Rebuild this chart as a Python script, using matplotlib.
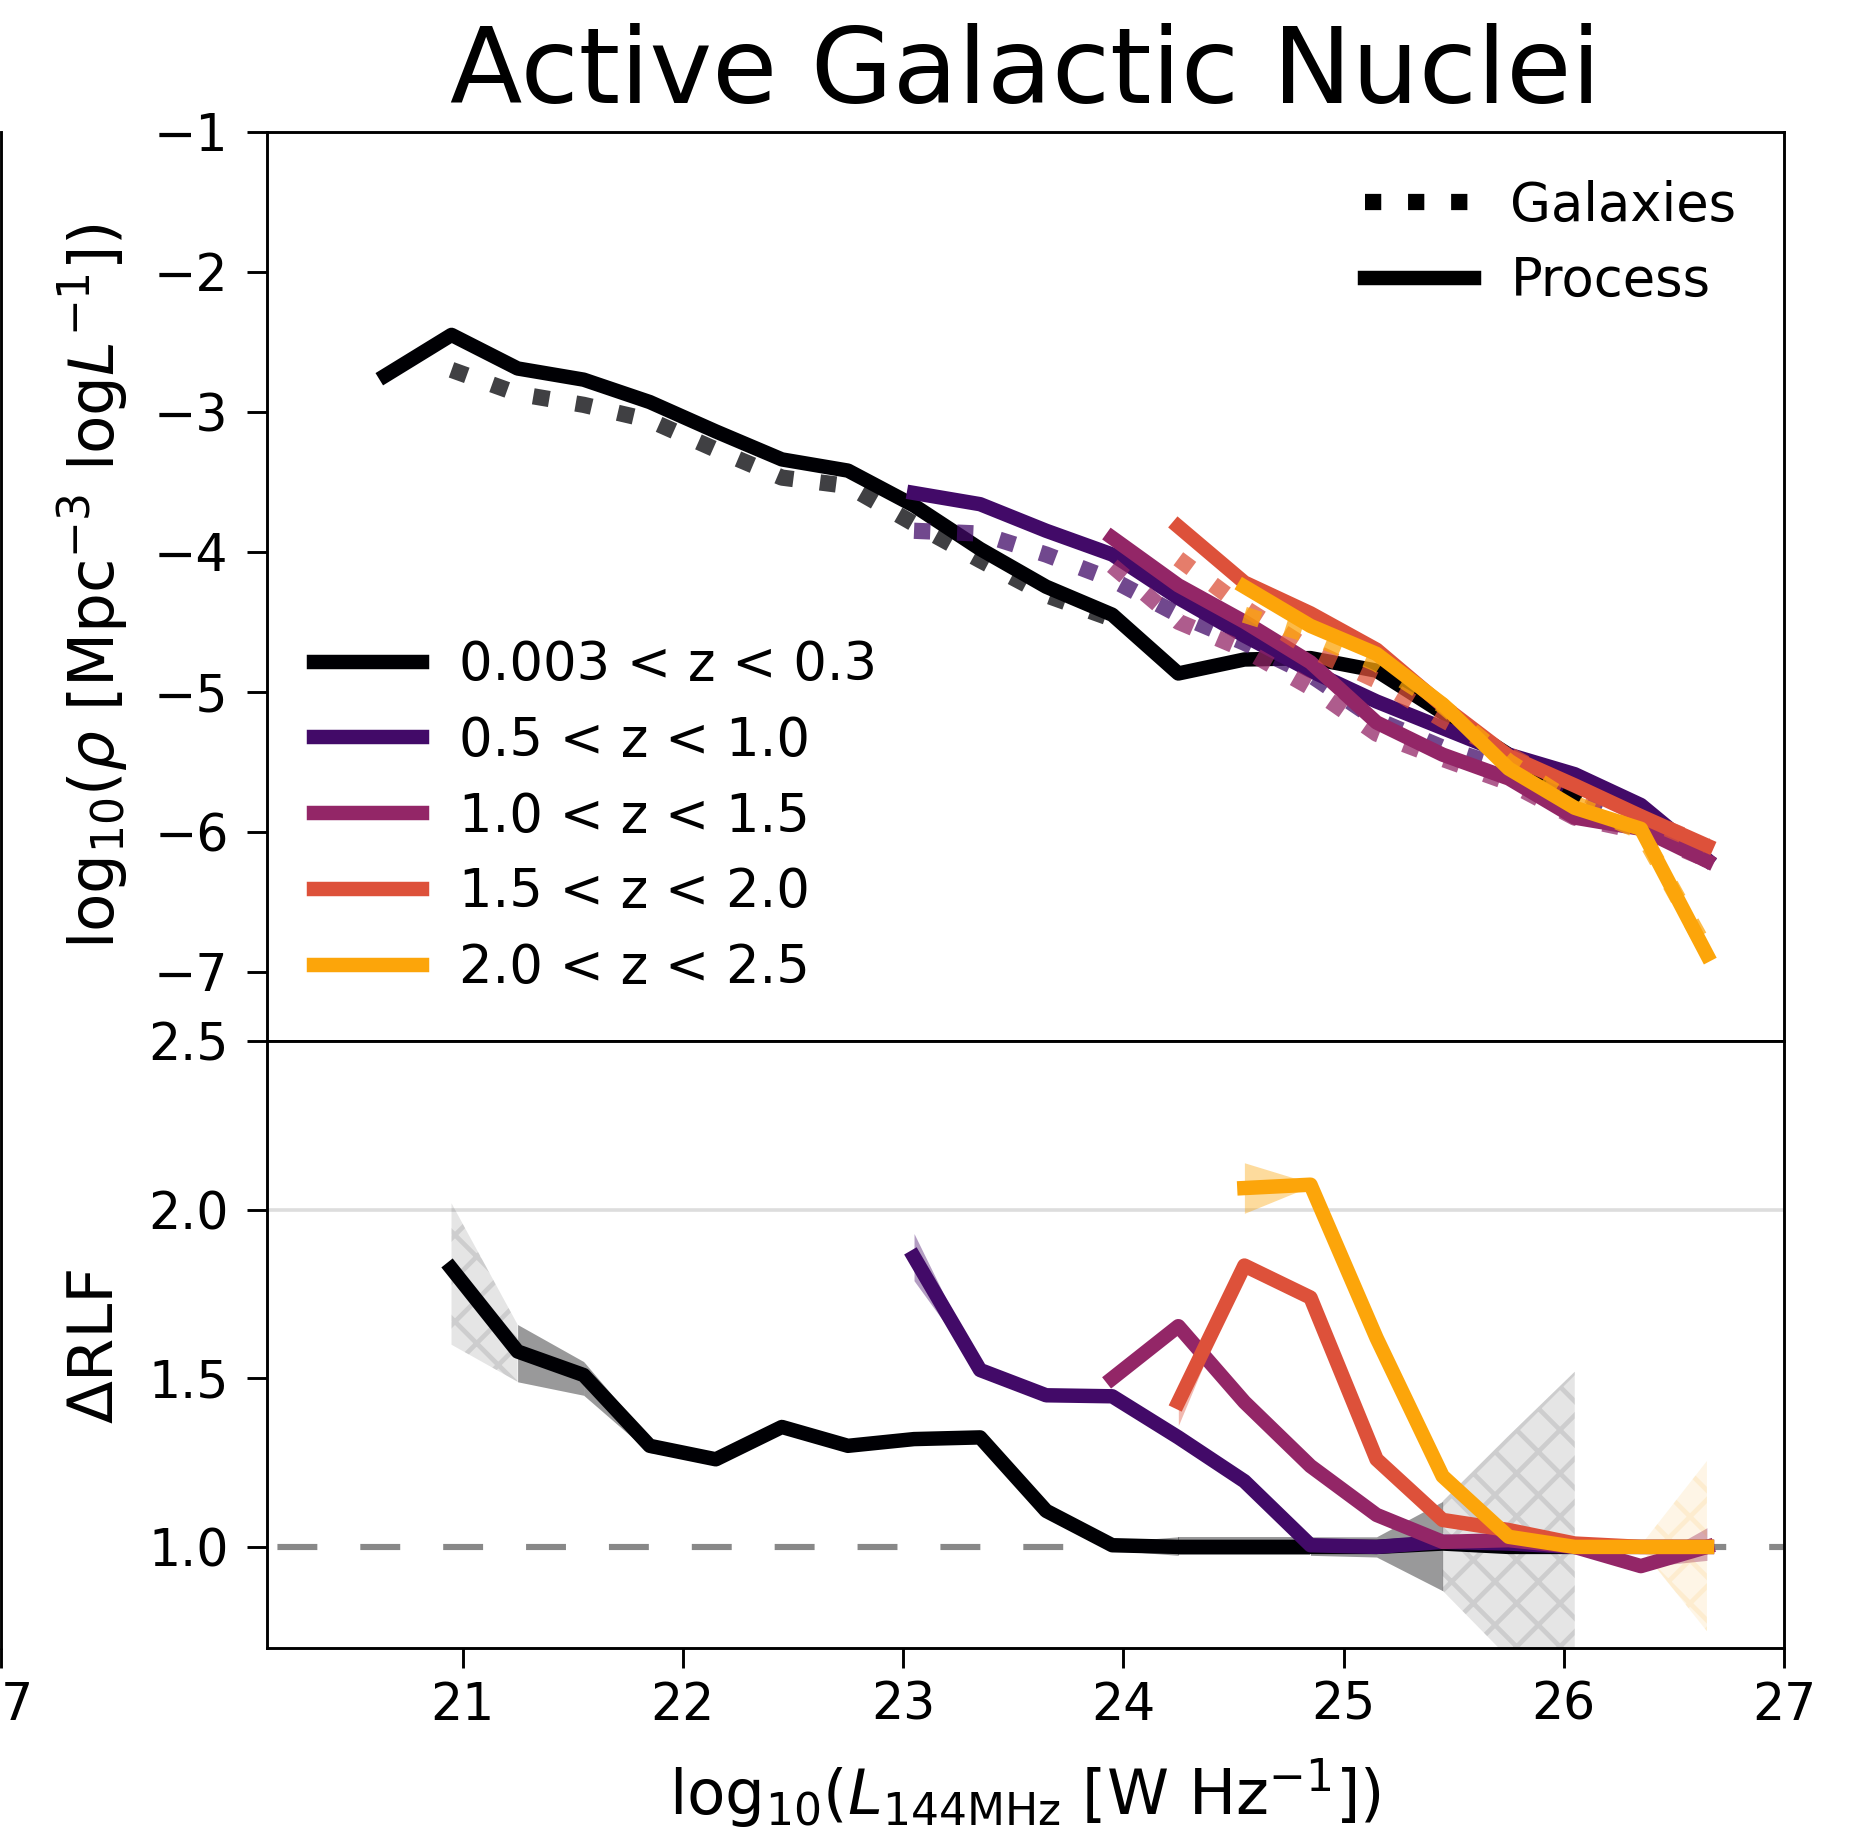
import matplotlib
matplotlib.use('Agg')
import matplotlib.pyplot as plt
from matplotlib.lines import Line2D

DPI = 260
plt.rcParams['font.family'] = ['DejaVu Sans']
plt.rcParams['hatch.linewidth'] = 1.3
plt.rcParams['xtick.major.size'] = 5.5
plt.rcParams['ytick.major.size'] = 5.5
plt.rcParams['ytick.major.pad'] = 5

z_labels = ['0.003 < z < 0.3', '0.5 < z < 1.0', '1.0 < z < 1.5',
            '1.5 < z < 2.0', '2.0 < z < 2.5']

# upper panel: log10 rho, process (solid) and galaxies (dotted)
L_0 = [20.65, 20.95, 21.25, 21.55, 21.85, 22.15, 22.45, 22.75, 23.05, 23.35,
       23.65, 23.95, 24.25, 24.55, 24.85, 25.15, 25.45, 25.75, 26.05]
rho_0 = [-2.74, -2.45, -2.69, -2.77, -2.93, -3.14, -3.34, -3.42, -3.67, -3.98,
         -4.25, -4.45, -4.87, -4.77, -4.76, -4.85, -5.15, -5.45, -5.74]
Lg_0 = [20.95, 21.25, 21.55, 21.85, 22.15, 22.45, 22.75, 23.05, 23.35, 23.65, 23.95]
rhog_0 = [-2.70, -2.87, -2.95, -3.06, -3.27, -3.47, -3.53, -3.80, -4.06, -4.31, -4.48]

L_1 = [23.05, 23.35, 23.65, 23.95, 24.25, 24.55, 24.85, 25.15, 25.45, 25.75,
       26.05, 26.35, 26.65]
rho_1 = [-3.58, -3.66, -3.85, -4.02, -4.33, -4.60, -4.85, -5.07, -5.26, -5.45,
         -5.59, -5.81, -6.20]
rhog_1 = [-3.85, -3.87, -4.02, -4.20, -4.45, -4.65, -4.88, -5.20, -5.40, -5.55,
          -5.75, -5.95, -6.20]

L_2 = [23.95, 24.25, 24.55, 24.85, 25.15, 25.45, 25.75, 26.05, 26.35, 26.65]
rho_2 = [-3.90, -4.24, -4.50, -4.79, -5.22, -5.45, -5.62, -5.90, -5.98, -6.21]
rhog_2 = [-4.10, -4.50, -4.70, -4.97, -5.30, -5.48, -5.65, -5.90, -6.00, -6.20]

L_3 = [24.25, 24.55, 24.85, 25.15, 25.45, 25.75, 26.05, 26.35, 26.65]
rho_3 = [-3.82, -4.22, -4.44, -4.70, -5.10, -5.46, -5.67, -5.89, -6.10]
rhog_3 = [-4.05, -4.40, -4.70, -4.92, -5.20, -5.45, -5.70, -5.90, -6.10]

L_4 = [24.55, 24.85, 25.15, 25.45, 25.75, 26.05, 26.35, 26.65]
rho_4 = [-4.25, -4.53, -4.73, -5.09, -5.55, -5.83, -5.98, -6.88]
rhog_4 = [-4.45, -4.60, -4.80, -5.10, -5.50, -5.80, -6.00, -6.85]

# lower panel: delta RLF with lower / upper band, 1 = hatched segment
Lr_0 = [20.95, 21.25, 21.55, 21.85, 22.15, 22.45, 22.75, 23.05, 23.35, 23.65,
        23.95, 24.25, 24.55, 24.85, 25.15, 25.45, 25.75, 26.05]
d_0 = [1.826, 1.58, 1.51, 1.30, 1.26, 1.356, 1.30, 1.32, 1.325, 1.107,
       1.005, 1.0, 1.0, 1.0, 1.0, 1.01, 1.0, 1.0]
lo_0 = [1.60, 1.49, 1.45, 1.28, 1.25, 1.35, 1.295, 1.315, 1.32, 1.10,
        0.99, 0.975, 0.975, 0.975, 0.97, 0.87, 0.67, 0.47]
hi_0 = [2.02, 1.66, 1.55, 1.32, 1.27, 1.362, 1.305, 1.325, 1.33, 1.115,
        1.015, 1.03, 1.03, 1.03, 1.03, 1.135, 1.33, 1.52]
hatch_0 = [1, 0, 0, 0, 0, 0, 0, 0, 0, 0, 0, 0, 0, 0, 0, 1, 1]

d_1 = [1.86, 1.525, 1.45, 1.447, 1.325, 1.195, 1.005, 1.0, 1.015, 1.01, 1.0, 1.0, 1.0]
lo_1 = [1.79, 1.52, 1.445, 1.442, 1.32, 1.19, 1.0, 0.995, 1.01, 1.005, 0.995, 0.995, 0.995]
hi_1 = [1.93, 1.53, 1.455, 1.452, 1.33, 1.20, 1.01, 1.005, 1.02, 1.015, 1.005, 1.005, 1.005]
hatch_1 = [0] * 12

d_2 = [1.50, 1.655, 1.43, 1.24, 1.095, 1.015, 1.02, 1.0, 0.943, 1.0]
lo_2 = [1.495, 1.65, 1.425, 1.235, 1.09, 1.01, 1.015, 0.995, 0.94, 0.96]
hi_2 = [1.505, 1.66, 1.435, 1.245, 1.10, 1.02, 1.025, 1.005, 0.946, 1.057]
hatch_2 = [0] * 9

d_3 = [1.43, 1.835, 1.74, 1.26, 1.08, 1.05, 1.01, 1.0, 1.0]
lo_3 = [1.36, 1.83, 1.735, 1.255, 1.075, 1.045, 1.005, 0.995, 0.995]
hi_3 = [1.48, 1.84, 1.745, 1.265, 1.085, 1.055, 1.015, 1.005, 1.005]
hatch_3 = [0] * 8

d_4 = [2.065, 2.075, 1.62, 1.21, 1.03, 1.0, 1.0, 1.0]
lo_4 = [1.99, 2.07, 1.615, 1.205, 1.025, 0.995, 0.995, 0.75]
hi_4 = [2.14, 2.08, 1.625, 1.215, 1.035, 1.005, 1.005, 1.255]
hatch_4 = [0, 0, 0, 0, 0, 0, 1]

cmap = plt.get_cmap('inferno')
colors = [cmap(v) for v in (0.0, 0.2, 0.4, 0.6, 0.8)]

top = [(L_0, rho_0, Lg_0, rhog_0), (L_1, rho_1, L_1, rhog_1), (L_2, rho_2, L_2, rhog_2),
       (L_3, rho_3, L_3, rhog_3), (L_4, rho_4, L_4, rhog_4)]
bot = [(Lr_0, d_0, lo_0, hi_0, hatch_0), (L_1, d_1, lo_1, hi_1, hatch_1),
       (L_2, d_2, lo_2, hi_2, hatch_2), (L_3, d_3, lo_3, hi_3, hatch_3),
       (L_4, d_4, lo_4, hi_4, hatch_4)]

fig = plt.figure(figsize=(1855 / DPI, 1829 / DPI), dpi=DPI)
left, width = 0.14367, 0.81806
ax1 = fig.add_axes([left, 0.43058, width, 0.92783 - 0.43058])
ax2 = fig.add_axes([left, 0.09896, width, 0.43058 - 0.09896], sharex=ax1)

# edge of the neighbouring panel, cut by the crop
axn = fig.add_axes([0.0007 - width, 0.09896, width, 0.92783 - 0.09896])
axn.patch.set_visible(False)
for s in ['left', 'top', 'bottom']:
    axn.spines[s].set_visible(False)
axn.set_xlim(20.11, 27)
axn.set_xticks([27])
axn.set_yticks([])
axn.tick_params(labelsize=14)

solid = []
for (xs, ys, xg, yg), c in zip(top, colors):
    ln, = ax1.plot(xs, ys, color=c, lw=4)
    ax1.plot(xg, yg, color=c, lw=4.5, ls=':', alpha=0.75)
    solid.append(ln)

leg1 = ax1.legend(solid, z_labels, loc='lower left', frameon=False, fontsize=14.6,
                  handlelength=2.05, handletextpad=0.7, labelspacing=0.45)
ax1.add_artist(leg1)
ax1.legend([Line2D([], [], color='k', ls=':', lw=4.5), Line2D([], [], color='k', lw=4)],
           ['Galaxies', 'Process'], loc='upper right', frameon=False, fontsize=14.6,
           handlelength=2.05, handletextpad=0.7, labelspacing=0.45)

ax1.set_ylim(-7.5, -1)
ax1.set_yticks([-7, -6, -5, -4, -3, -2, -1])
ax1.tick_params(axis='x', bottom=False, labelbottom=False)
ax1.tick_params(labelsize=14)
ax1.set_ylabel(r'log$_{10}$($\rho$ [Mpc$^{-3}$ log$L^{-1}$])', fontsize=17.4)
ax1.yaxis.set_label_coords(-0.089, 0.5)
ax1.set_title('Active Galactic Nuclei', fontsize=29.3, pad=8)

ax2.axhline(1.0, color='#888888', lw=1.7, ls=(11.8, (6.5, 7)), zorder=1)
ax2.axhline(2.0, color='#dddddd', lw=1.0, zorder=0.5)
for (xs, ys, lo, hi, hz), c in zip(bot, colors):
    for i, h in enumerate(hz):
        if h:
            ax2.fill_between(xs[i:i + 2], lo[i:i + 2], hi[i:i + 2], facecolor=c,
                             edgecolor=c, alpha=0.1, hatch='xx', lw=0, zorder=2)
        else:
            ax2.fill_between(xs[i:i + 2], lo[i:i + 2], hi[i:i + 2], color=c,
                             alpha=0.4, lw=0, zorder=2)
for (xs, ys, lo, hi, hz), c in zip(bot, colors):
    ax2.plot(xs, ys, color=c, lw=4, zorder=3)

ax2.set_ylim(0.7, 2.5)
ax2.set_yticks([1.0, 1.5, 2.0, 2.5])
ax2.set_xlim(20.11, 27)
ax2.set_xticks([21, 22, 23, 24, 25, 26, 27])
ax2.tick_params(labelsize=14)
ax2.set_ylabel('ΔRLF', fontsize=17.4)
ax2.yaxis.set_label_coords(-0.093, 0.5)
ax2.set_xlabel(r'log$_{10}$($L_{\rm 144MHz}$ [W Hz$^{-1}$])', fontsize=17.4)
ax2.xaxis.set_label_coords(0.5, -0.178)

fig.savefig('out.png', dpi=DPI)
